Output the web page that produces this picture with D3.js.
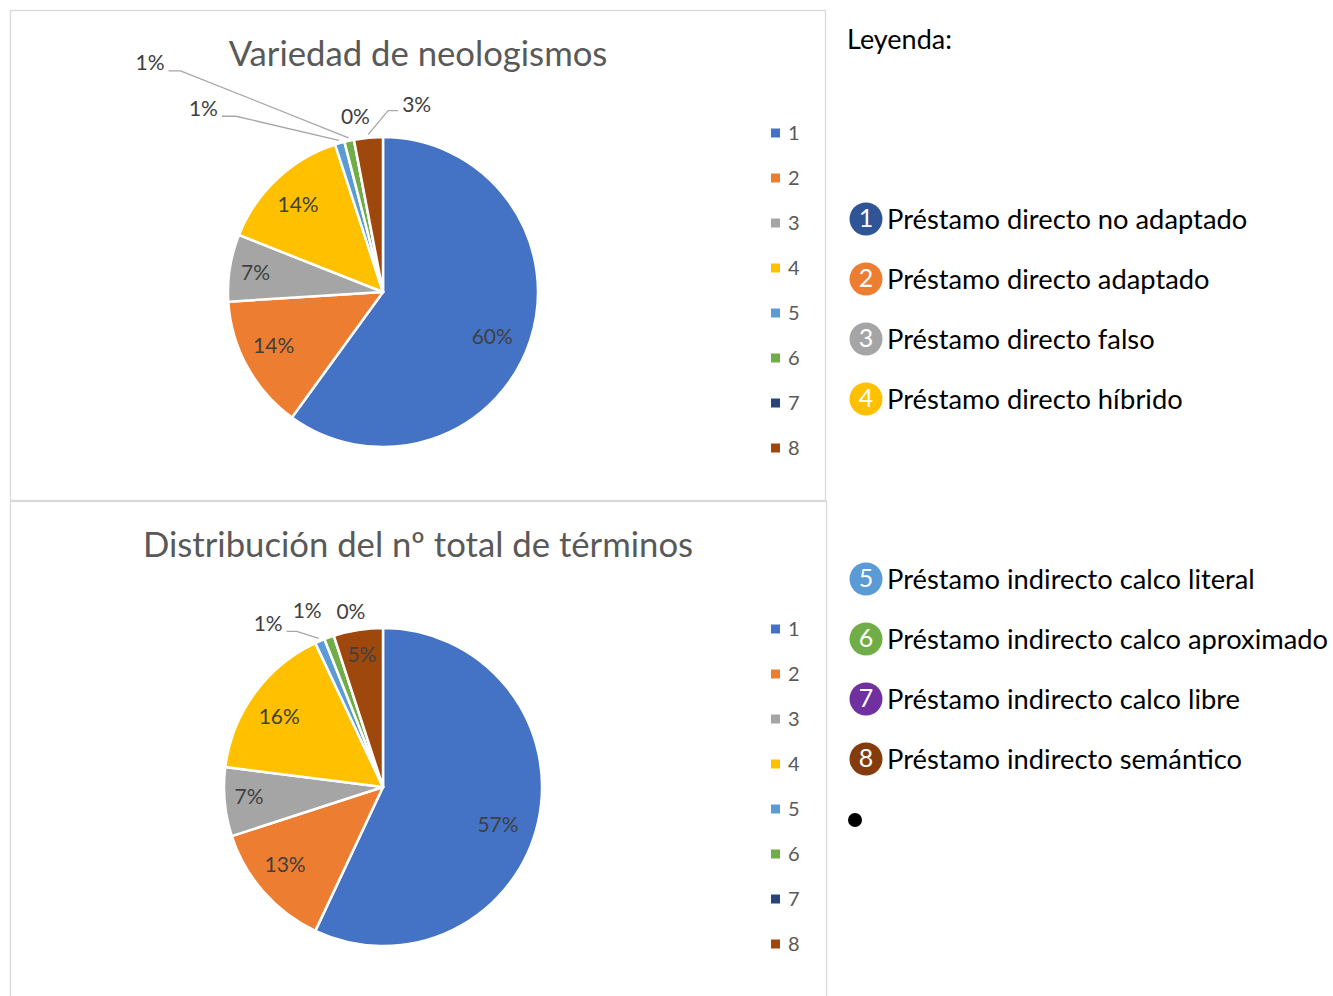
<!DOCTYPE html>
<html><head><meta charset="utf-8">
<script src="https://cdn.jsdelivr.net/npm/d3@7"></script>
<style>
html,body{margin:0;padding:0;background:#fff;}
svg{display:block;}
text{font-family:Lato, "Open Sans", sans-serif;}
</style></head>
<body>
<svg id="c" width="1333" height="996"></svg>
<script>
// ---- data ----
const categories = ["1","2","3","4","5","6","7","8"];
const topTitle = "Variedad de neologismos";
const topValues = [60, 14, 7, 14, 1, 1, 0, 3];
const bottomTitle = "Distribución del nº total de términos";
const bottomValues = [57, 13, 7, 16, 1, 1, 0, 5];
const legendTitle = "Leyenda:";
const legendLabels = [
  "Préstamo directo no adaptado",
  "Préstamo directo adaptado",
  "Préstamo directo falso",
  "Préstamo directo híbrido",
  "Préstamo indirecto calco literal",
  "Préstamo indirecto calco aproximado",
  "Préstamo indirecto calco libre",
  "Préstamo indirecto semántico"
];

// ---- styles ----
const pieColors = ["#4472C4","#ED7D31","#A5A5A5","#FFC000","#5B9BD5","#70AD47","#264478","#9E480E"];
const badgeColors = ["#2F5597","#ED7D31","#A5A5A5","#FFC000","#5B9BD5","#70AD47","#7030A0","#843C0C"];

const svg = d3.select("#c");
svg.append("rect").attr("width",1333).attr("height",996).attr("fill","#fff");

// chart frames
svg.append("rect").attr("x",10.5).attr("y",10.5).attr("width",815).attr("height",490)
  .attr("fill","none").attr("stroke","#d9d9d9").attr("stroke-width",1.3);
svg.append("rect").attr("x",10.5).attr("y",501.5).attr("width",816).attr("height",510)
  .attr("fill","none").attr("stroke","#d9d9d9").attr("stroke-width",1.3);

const pct = d3.format(".0%");
const LABEL_FS = 21;

// label layout (positions only): inside -> radius factor + angle nudge; outside -> offset from arc anchor
const topLayout = {
  0: {type:"inside", f:0.766, da:5},
  1: {type:"inside", f:0.79, da:2},
  2: {type:"inside", f:0.83, da:-1.4},
  3: {type:"inside", f:0.775, da:-1.8},
  4: {type:"line", dx:-103, dy:-24, h:-14},
  5: {type:"line", dx:-168, dy:-67, h:-12},
  6: {type:"free", dx:2, dy:-18},
  7: {type:"line", dx:20, dy:-24, h:10}
};
const bottomLayout = {
  0: {type:"inside", f:0.766, da:6.6},
  1: {type:"inside", f:0.795, da:2.2},
  2: {type:"inside", f:0.846, da:0.3},
  3: {type:"inside", f:0.78, da:-2.8},
  4: {type:"line", dx:-22, dy:-7, h:-10},
  5: {type:"free", dx:-21, dy:-22},
  6: {type:"free", dx:18, dy:-19},
  7: {type:"inside", f:0.83, da:-0.2}
};

function drawPie(values, cx, cy, r, title, titleY, layout, legendY0) {
  const g = svg.append("g");
  g.append("text").attr("x",418).attr("y",titleY).attr("text-anchor","middle")
    .attr("dominant-baseline","middle").attr("font-size",34.7).attr("fill","#595959").text(title);

  const total = d3.sum(values);
  const pie = d3.pie().sort(null).value(d=>d)(values);
  const arc = d3.arc().innerRadius(0).outerRadius(r);
  const pg = g.append("g").attr("transform",`translate(${cx},${cy})`);
  pg.selectAll("path").data(pie).join("path")
    .attr("d",arc).attr("fill",(d,i)=>pieColors[i])
    .attr("stroke","#fff").attr("stroke-width",2.5).attr("stroke-linejoin","round");

  pie.forEach((d,i)=>{
    const lay = layout[i];
    const txt = pct(d.value/total);
    if (lay.type==="inside") {
      const mid = (d.startAngle+d.endAngle)/2 + lay.da*Math.PI/180;
      const rr = r*lay.f;
      pg.append("text").attr("x",Math.sin(mid)*rr).attr("y",-Math.cos(mid)*rr)
        .attr("text-anchor","middle").attr("dominant-baseline","middle")
        .attr("font-size",LABEL_FS).attr("fill","#404040").text(txt);
    } else {
      const mid = (d.startAngle+d.endAngle)/2;
      const ra = r+3;
      const ax = Math.sin(mid)*ra, ay = -Math.cos(mid)*ra;
      const ex = ax+lay.dx, ey = ay+lay.dy;
      if (lay.type==="line") {
        const hx = ex+lay.h;
        pg.append("polyline").attr("points",`${ax},${ay} ${ex},${ey} ${hx},${ey}`)
          .attr("fill","none").attr("stroke","#a6a6a6").attr("stroke-width",1.3);
        pg.append("text").attr("x",hx+(lay.h<0?-4:4)).attr("y",ey-(lay.h<0?6:4))
          .attr("text-anchor",lay.h<0?"end":"start").attr("dominant-baseline","middle")
          .attr("font-size",LABEL_FS).attr("fill","#404040").text(txt);
      } else {
        pg.append("text").attr("x",ex).attr("y",ey)
          .attr("text-anchor","middle").attr("dominant-baseline","middle")
          .attr("font-size",LABEL_FS).attr("fill","#404040").text(txt);
      }
    }
  });

  // legend
  const ly = d3.scaleBand().domain(categories).range([legendY0-22.5, legendY0-22.5+45*categories.length]);
  const lg = g.selectAll("g.leg").data(categories).join("g")
    .attr("transform",d=>`translate(771,${ly(d)+ly.bandwidth()/2})`);
  lg.append("rect").attr("x",0).attr("y",-4.5).attr("width",9).attr("height",9)
    .attr("fill",(d,i)=>pieColors[i]);
  lg.append("text").attr("x",17).attr("y",2).attr("dominant-baseline","middle")
    .attr("font-size",20).attr("fill","#595959").text(d=>d);
}

drawPie(topValues, 383, 292, 155, topTitle, 57, topLayout, 133);
drawPie(bottomValues, 383, 787, 159, bottomTitle, 548, bottomLayout, 629);

// right-hand legend
svg.append("text").attr("x",847).attr("y",42).attr("dominant-baseline","middle")
  .attr("font-size",27).attr("fill","#000").text(legendTitle);

const rowPos = i => (i<4 ? 219 + 60*i : 579 + 60*(i-4));
const rows = svg.selectAll("g.row").data(legendLabels).join("g")
  .attr("transform",(d,i)=>`translate(866,${rowPos(i)})`);
rows.append("circle").attr("r",16.5).attr("fill",(d,i)=>badgeColors[i]);
rows.append("text").attr("x",0).attr("y",2).attr("text-anchor","middle").attr("dominant-baseline","middle")
  .attr("font-size",25).attr("fill","#fff").text((d,i)=>categories[i]);
rows.append("text").attr("x",21).attr("y",3).attr("dominant-baseline","middle")
  .attr("font-size",27.3).attr("fill","#000").text(d=>d);

svg.append("circle").attr("cx",855).attr("cy",820).attr("r",7).attr("fill","#000");
</script>
</body></html>
